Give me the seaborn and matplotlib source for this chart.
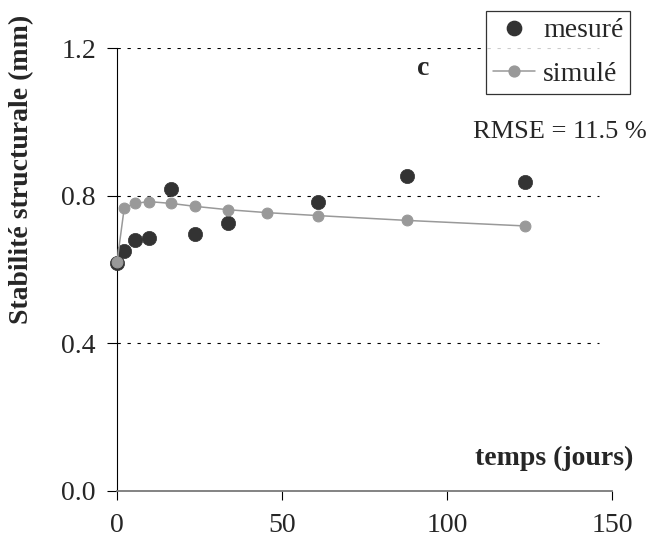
import matplotlib
matplotlib.use("Agg")
import matplotlib.pyplot as plt
import seaborn as sns
import pandas as pd
from matplotlib.lines import Line2D

# ---- data ----
t_mesure = [0, 2.2, 5.5, 9.6, 16.4, 23.7, 33.6, 60.9, 87.8, 123.6]
y_mesure = [0.617, 0.649, 0.681, 0.686, 0.819, 0.697, 0.725, 0.783, 0.854, 0.838]
t_simule = [0, 2.2, 5.5, 9.6, 16.4, 23.7, 33.6, 45.5, 60.9, 87.8, 123.6]
y_simule = [0.620, 0.767, 0.779, 0.784, 0.779, 0.771, 0.762, 0.754, 0.746, 0.733, 0.718]
x_ticks = [0, 50, 100, 150]
y_ticks = [0.0, 0.4, 0.8, 1.2]
y_ticklabels = ["0.0", "0.4", "0.8", "1.2"]

sns.set_theme(style="white")
plt.rcParams["font.family"] = ["Liberation Serif", "DejaVu Serif"]
FS = 20

df_m = pd.DataFrame({"t": t_mesure, "y": y_mesure})
df_s = pd.DataFrame({"t": t_simule, "y": y_simule})

fig = plt.figure(figsize=(6.55, 5.57), dpi=100)
W, H = 655, 557
ax = fig.add_axes([117 / W, (H - 491) / H, (612 - 117) / W, (491 - 48) / H])

DARK = "#333333"
GREY = "#999999"

sns.scatterplot(data=df_m, x="t", y="y", ax=ax, s=105, color=DARK,
                edgecolor=DARK, linewidth=0.5, zorder=3, clip_on=False, legend=False)
sns.lineplot(data=df_s, x="t", y="y", ax=ax, color=GREY, lw=1.1, marker="o",
             markersize=7.8, markeredgecolor=GREY, markerfacecolor=GREY,
             zorder=4, clip_on=False, legend=False)

ax.set_xlim(0, 150)
ax.set_ylim(0, 1.2)
ax.set_xticks(x_ticks)
ax.set_yticks(y_ticks)
ax.set_yticklabels(y_ticklabels)
ax.set_xlabel("")
ax.set_ylabel("")

for ytk in y_ticks[1:]:
    ax.plot([0, 146], [ytk, ytk], color="black", lw=0.8, linestyle=(0, (3, 6)), zorder=1)

for s in ["top", "right"]:
    ax.spines[s].set_visible(False)
ax.spines["left"].set_color("black")
ax.spines["left"].set_linewidth(0.8)
ax.spines["bottom"].set_color("#7a7a7a")
ax.spines["bottom"].set_linewidth(1.3)

ax.tick_params(axis="y", direction="out", length=7.2, width=0.8, color="black",
               labelsize=FS, pad=8, left=True)
ax.tick_params(axis="x", direction="out", length=6.5, width=0.8, color="black",
               labelsize=FS, pad=9, bottom=True)

# y label
fig.text(22 / W, 1 - 169 / H, "Stabilité structurale (mm)", rotation=90,
         ha="center", va="center", fontsize=FS, fontweight="bold")
# x label
fig.text(633 / W, 1 - 465 / H, "temps (jours)", ha="right", va="baseline",
         fontsize=FS, fontweight="bold")
# panel letter
fig.text(423 / W, 1 - 75 / H, "c", ha="center", va="baseline",
         fontsize=FS, fontweight="bold")
# RMSE
fig.text(473 / W, 1 - 138 / H, "RMSE = 11.5 %", ha="left", va="baseline", fontsize=19)

handles = [
    Line2D([], [], linestyle="none", marker="o", markersize=10.3, color=DARK),
    Line2D([], [], color=GREY, lw=1.1, marker="o", markersize=7.8),
]
leg = fig.legend(handles, ["mesuré", "simulé"], loc="upper left",
                 bbox_to_anchor=(486 / W, 1 - 11 / H), fontsize=FS,
                 frameon=True, fancybox=False, shadow=False, borderpad=0.25,
                 handlelength=1.5, handletextpad=0.3, labelspacing=0.65,
                 borderaxespad=0)
leg.get_frame().set_edgecolor("black")
leg.get_frame().set_linewidth(0.9)
leg.get_frame().set_facecolor("white")

fig.savefig("out.png", dpi=100)
